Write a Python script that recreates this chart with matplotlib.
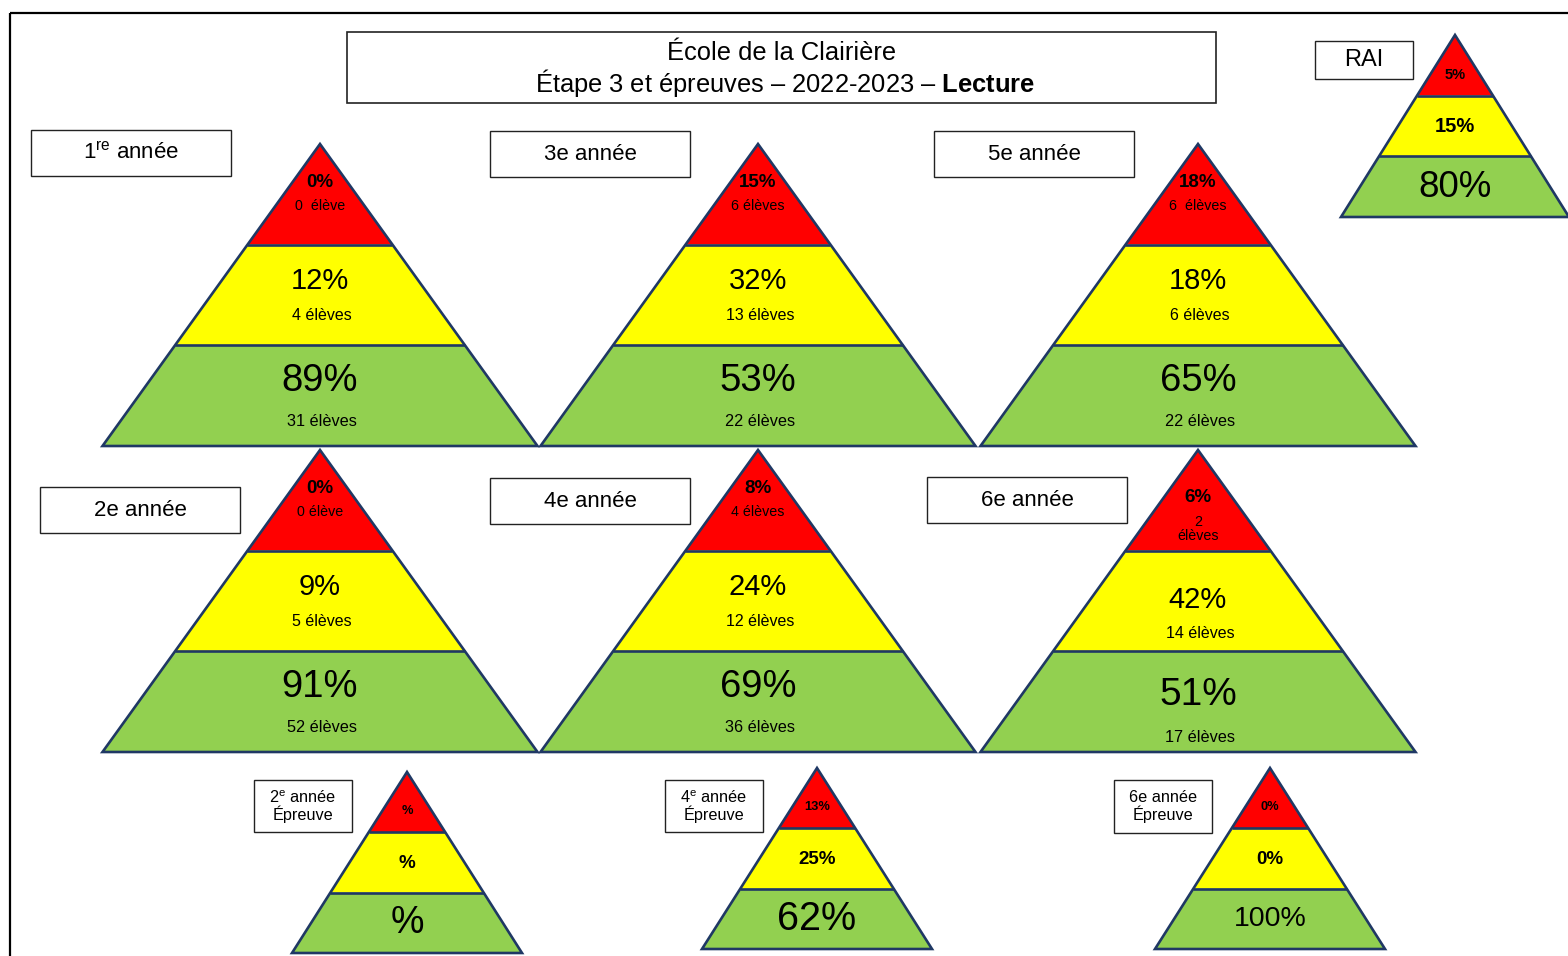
import matplotlib
matplotlib.use("Agg")
import matplotlib.pyplot as plt
from matplotlib.patches import Polygon, Rectangle

plt.rcParams['font.family'] = ['Liberation Sans', 'DejaVu Sans']
plt.rcParams['mathtext.fontset'] = 'custom'
plt.rcParams['mathtext.rm'] = 'Liberation Sans'
plt.rcParams['mathtext.bf'] = 'Liberation Sans:bold'

# ---------------- data ----------------
grades = ["1$^{\\mathrm{re}}$ année", "3e année", "5e année",
          "2e année", "4e année", "6e année"]
red_pct = [0, 15, 18, 0, 8, 6]
yellow_pct = [12, 32, 18, 9, 24, 42]
green_pct = [89, 53, 65, 91, 69, 51]
red_count = ["0  élève", "6 élèves", "6  élèves", "0 élève", "4 élèves", "2\nélèves"]
yellow_count = ["4 élèves", "13 élèves", "6 élèves", "5 élèves", "12 élèves", "14 élèves"]
green_count = ["31 élèves", "22 élèves", "22 élèves", "52 élèves", "36 élèves", "17 élèves"]

epreuve_labels = ["2$^{\\mathrm{e}}$ année\nÉpreuve", "4$^{\\mathrm{e}}$ année\nÉpreuve", "6e année\nÉpreuve"]
epreuve_red = [None, 13, 0]
epreuve_yellow = [None, 25, 0]
epreuve_green = [None, 62, 100]

rai_pct = [5, 15, 80]

title_line1 = "École de la Clairière"
title_line2 = "Étape 3 et épreuves – 2022-2023 – $\\mathbf{Lecture}$"

# ---------------- style ----------------
RED, YEL, GRN = "#FF0000", "#FFFF00", "#92D050"
EDGE = "#1F3864"

fig = plt.figure(figsize=(15.68, 9.56), dpi=100)
ax = fig.add_axes([0, 0, 1, 1])
ax.set_xlim(0, 1568)
ax.set_ylim(956, 0)
ax.axis('off')

# outer frame
ax.add_patch(Rectangle((10, 13), 1600, 1000, fill=False, edgecolor='black', lw=1.6, zorder=1))


def fmt(v):
    return "%" if v is None else f"{v}%"


def pyramid(cx, ay, hw, h):
    cols = [RED, YEL, GRN]
    for i in range(3):
        y0 = ay + i * h / 3
        y1 = ay + (i + 1) * h / 3
        w0 = hw * i / 3
        w1 = hw * (i + 1) / 3
        ax.add_patch(Polygon([(cx - w0, y0), (cx + w0, y0), (cx + w1, y1), (cx - w1, y1)],
                             closed=True, facecolor=cols[i], edgecolor='none', zorder=2))
    for i in (1, 2):
        y = ay + i * h / 3
        w = hw * i / 3
        ax.plot([cx - w, cx + w], [y, y], color=EDGE, lw=1.9, zorder=3, solid_capstyle='butt')
    ax.add_patch(Polygon([(cx, ay), (cx + hw, ay + h), (cx - hw, ay + h)], closed=True,
                         fill=False, edgecolor=EDGE, lw=1.9, joinstyle='miter', zorder=3))


def box(x0, y0, x1, y1, text, fs, lw=1.0, ls=1.0):
    ax.add_patch(Rectangle((x0, y0), x1 - x0, y1 - y0, facecolor='white',
                           edgecolor='#222222', lw=lw, zorder=4))
    ax.text((x0 + x1) / 2, (y0 + y1) / 2, text, fontsize=fs, ha='center', va='center',
            linespacing=ls, zorder=5)


def t(x, y, s, fs, bold=False):
    ax.text(x, y, s, fontsize=fs, ha='center', va='center',
            fontweight='bold' if bold else 'normal', zorder=6, linespacing=1.0)


# title
box(347, 32, 1216, 103, "", 16, lw=1.2)
t(782, 53, title_line1, 18.4)
t(785, 83, title_line2, 18.4)

# big pyramids
apex = [(320, 144), (758, 144), (1198, 144), (320, 450), (758, 450), (1198, 450)]
label_boxes = [(31, 130, 231, 176), (490, 131, 690, 177), (934, 131, 1134, 177),
               (40, 487, 240, 533), (490, 478, 690, 524), (927, 477, 1127, 523)]
for i in range(6):
    cx, ay = apex[i]
    pyramid(cx, ay, 217.5, 302)
    bx = label_boxes[i]
    box(*bx, grades[i], 16)
    if i == 5:
        t(cx, ay + 47, fmt(red_pct[i]), 13.5, True)
        t(cx, ay + 79, red_count[i], 10.3)
        t(cx, ay + 150, fmt(yellow_pct[i]), 21)
        t(cx + 2, ay + 184, yellow_count[i], 11.5)
        t(cx, ay + 245, fmt(green_pct[i]), 28)
        t(cx + 2, ay + 288, green_count[i], 11.7)
    else:
        t(cx, ay + 38, fmt(red_pct[i]), 13.5, True)
        t(cx, ay + 62, red_count[i], 10.3)
        t(cx, ay + 137, fmt(yellow_pct[i]), 21)
        t(cx + 2, ay + 171, yellow_count[i], 11.5)
        t(cx, ay + 237, fmt(green_pct[i]), 27.5)
        t(cx + 2, ay + 278, green_count[i], 11.7)

# épreuve pyramids
ep_apex = [(407, 772), (817, 768), (1270, 768)]
ep_boxes = [(254, 780, 352, 832), (665, 780, 763, 832), (1114, 780, 1212, 833)]
ep_green_fs = [27, 28.5, 20.5]
for i in range(3):
    cx, ay = ep_apex[i]
    pyramid(cx, ay, 115, 181)
    box(*ep_boxes[i], epreuve_labels[i], 11.7, ls=1.0)
    t(cx, ay + 39, fmt(epreuve_red[i]), 9.3, True)
    t(cx, ay + 91, fmt(epreuve_yellow[i]), 13.5, True)
    t(cx, ay + 151, fmt(epreuve_green[i]), ep_green_fs[i])

# RAI
pyramid(1455, 35, 114, 182)
box(1315, 41, 1413, 79, "RAI", 17)
t(1455, 75, fmt(rai_pct[0]), 10.5, True)
t(1455, 126, fmt(rai_pct[1]), 14.5, True)
t(1455, 187, fmt(rai_pct[2]), 26.5)

fig.savefig("out.png", dpi=100)
